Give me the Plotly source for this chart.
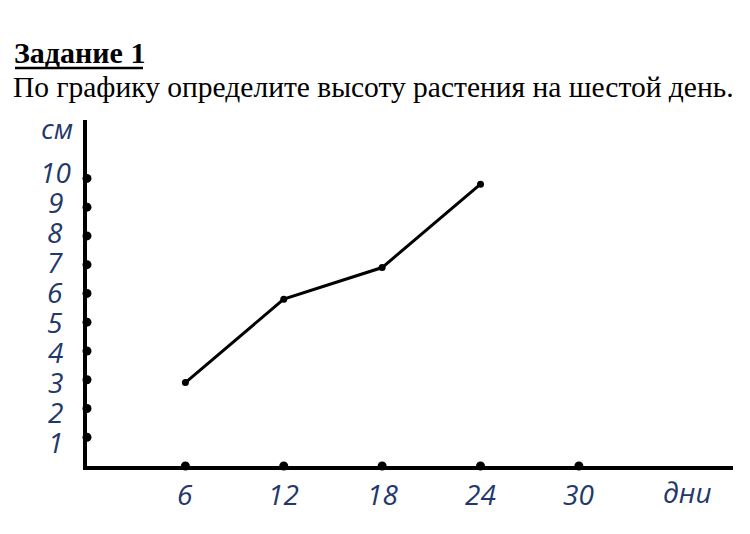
import plotly.graph_objects as go

# ---- data ----
days = [6, 12, 18, 24]
height_cm = [2.9, 5.8, 6.9, 9.8]
x_ticks = [6, 12, 18, 24, 30]
x_tick_labels = ["6", "12", "18", "24", "30"]
y_ticks = [1, 2, 3, 4, 5, 6, 7, 8, 9, 10]
y_tick_labels = ["1", "2", "3", "4", "5", "6", "7", "8", "9", "10"]
task_title = "Задание 1"
task_text = "По графику определите высоту растения на шестой день."
y_unit = "см"
x_unit = "дни"

W, H = 750, 534
L, R, T, B = 87, 733, 120, 466  # plot area in pixels
BLUE = "#22386b"
LABEL_FONT = dict(family="Open Sans", size=28, color=BLUE, style="italic")


def px(x):
    return (x - L) / (R - L)


def py(y):
    return (B - y) / (B - T)


fig = go.Figure()

# data line
fig.add_trace(go.Scatter(
    x=days, y=height_cm, mode="lines+markers",
    line=dict(color="black", width=3),
    marker=dict(color="black", size=7),
    cliponaxis=False, showlegend=False, hoverinfo="skip",
))
# dots on y axis
fig.add_trace(go.Scatter(
    x=[0] * len(y_ticks), y=y_ticks, mode="markers",
    marker=dict(color="black", size=9),
    cliponaxis=False, showlegend=False, hoverinfo="skip",
))
# dots on x axis
fig.add_trace(go.Scatter(
    x=x_ticks, y=[0] * len(x_ticks), mode="markers",
    marker=dict(color="black", size=9),
    cliponaxis=False, showlegend=False, hoverinfo="skip",
))

annotations = []
# y tick labels (centered, slightly spread)
for v, t in zip(y_ticks, y_tick_labels):
    annotations.append(dict(
        x=0, y=v, xref="x", yref="y", text=t, showarrow=False,
        xanchor="center", yanchor="middle", xshift=-32, yshift=(v - 5) * 1.2,
        font=LABEL_FONT,
    ))
# x tick labels
for v, t in zip(x_ticks, x_tick_labels):
    annotations.append(dict(
        x=v, y=0, xref="x", yref="y", text=t, showarrow=False,
        xanchor="center", yanchor="middle", yshift=-28,
        font=LABEL_FONT,
    ))
# units
annotations.append(dict(x=px(57), y=py(128), xref="paper", yref="paper",
                        text=y_unit, showarrow=False, xanchor="center",
                        yanchor="middle", font=LABEL_FONT))
annotations.append(dict(x=px(687), y=py(492), xref="paper", yref="paper",
                        text=x_unit, showarrow=False, xanchor="center",
                        yanchor="middle", font=LABEL_FONT))
# task text
annotations.append(dict(x=px(12), y=py(53), xref="paper", yref="paper",
                        text="<b>" + task_title + "</b>", showarrow=False,
                        xanchor="left", yanchor="middle",
                        font=dict(family="Liberation Serif", size=30,
                                  color="black")))
annotations.append(dict(x=px(11), y=py(87), xref="paper", yref="paper",
                        text=task_text, showarrow=False,
                        xanchor="left", yanchor="middle",
                        font=dict(family="Liberation Serif", size=29.5,
                                  color="black")))

shapes = [
    # underline of the title
    dict(type="line", xref="paper", yref="paper",
         x0=px(15), x1=px(143), y0=py(68), y1=py(68),
         line=dict(color="black", width=2.5)),
]

fig.update_layout(
    width=W, height=H,
    margin=dict(l=L, r=W - R, t=T, b=H - B, pad=0),
    paper_bgcolor="white", plot_bgcolor="white",
    annotations=annotations, shapes=shapes,
    xaxis=dict(range=[0, 39.4], showgrid=False, zeroline=False,
               showticklabels=False, ticks="", showline=True,
               linecolor="black", linewidth=3.5, fixedrange=True),
    yaxis=dict(range=[0, 12.03], showgrid=False, zeroline=False,
               showticklabels=False, ticks="", showline=True,
               linecolor="black", linewidth=3.5, fixedrange=True),
)

fig.write_html(
    "out.html",
    config={"displayModeBar": False},
    post_script="document.body.style.margin='0';document.body.style.padding='0';",
)
